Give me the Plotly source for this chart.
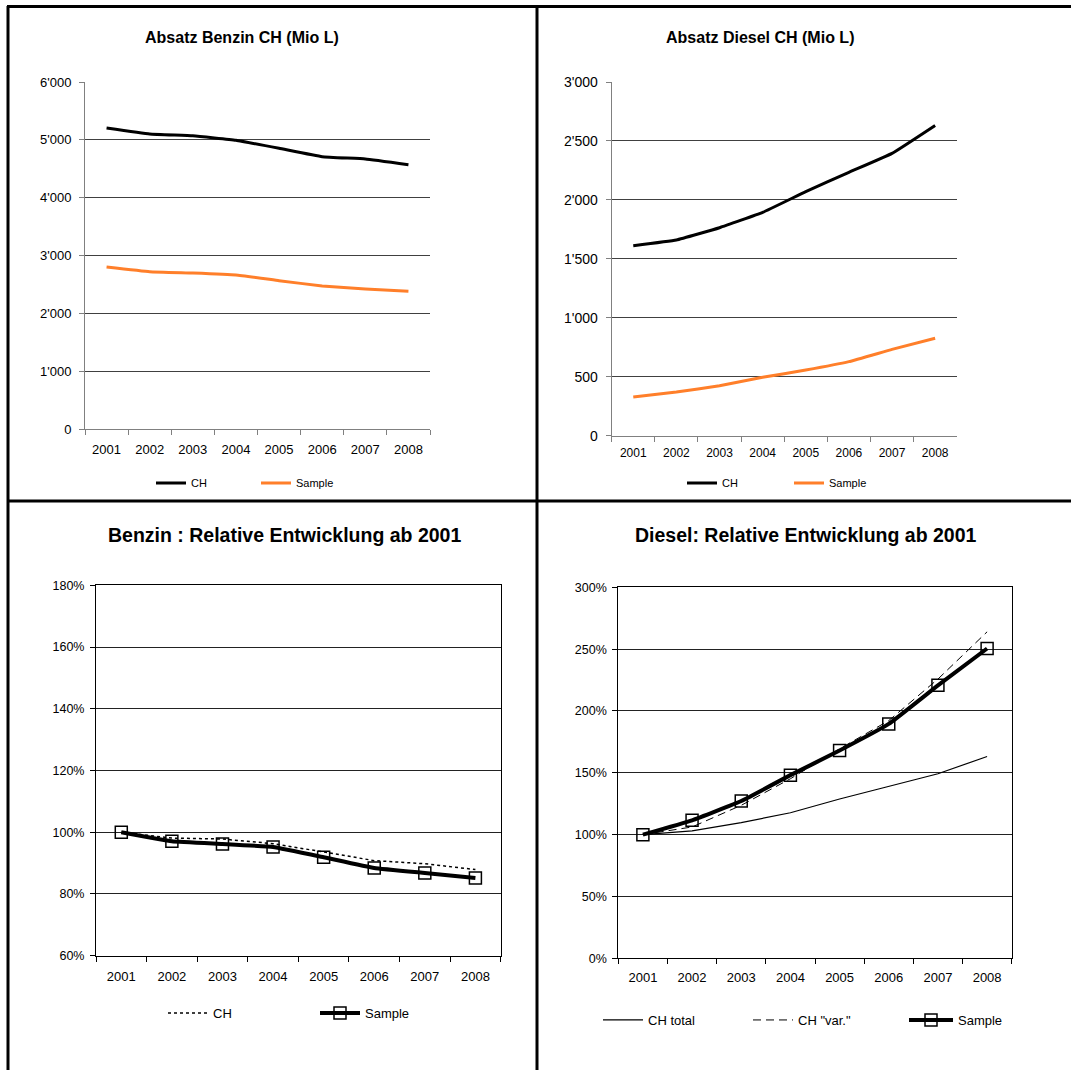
import plotly.graph_objects as go

# ---- data -------------------------------------------------------------
years = ["2001", "2002", "2003", "2004", "2005", "2006", "2007", "2008"]

# Absatz Benzin (Mio L)
benzin_ch = [5205, 5102, 5070, 4993, 4855, 4710, 4670, 4572]
benzin_sample = [2804, 2723, 2700, 2666, 2568, 2476, 2424, 2384]

# Absatz Diesel (Mio L)
diesel_ch = [1612, 1660, 1764, 1894, 2070, 2234, 2395, 2632]
diesel_sample = [328, 370, 424, 495, 557, 628, 732, 826]

# Relative Entwicklung ab 2001 (2001 = 100%)
benzin_rel_ch = [1.000, 0.981, 0.978, 0.963, 0.936, 0.908, 0.898, 0.879]
benzin_rel_sample = [1.000, 0.971, 0.962, 0.952, 0.919, 0.884, 0.868, 0.852]

diesel_rel_ch_total = [1.000, 1.030, 1.097, 1.177, 1.288, 1.390, 1.492, 1.632]
diesel_rel_ch_var = [1.000, 1.062, 1.237, 1.452, 1.694, 1.922, 2.258, 2.640]
diesel_rel_sample = [1.000, 1.116, 1.272, 1.481, 1.680, 1.895, 2.207, 2.505]

# ---- layout helpers ---------------------------------------------------
W, H = 1071, 1070
FONT = "Liberation Sans, Arial, sans-serif"
ORANGE = "#FF7F2A"


def px(x):
    return x / W


def py(y):
    return 1 - y / H


fig = go.Figure()

# top-left: Benzin absolute
fig.add_trace(go.Scatter(x=years, y=benzin_ch, name="CH", mode="lines",
                         line=dict(color="black", width=3, shape="spline", smoothing=0.3),
                         xaxis="x", yaxis="y", legend="legend"))
fig.add_trace(go.Scatter(x=years, y=benzin_sample, name="Sample", mode="lines",
                         line=dict(color=ORANGE, width=3, shape="spline", smoothing=0.3),
                         xaxis="x", yaxis="y", legend="legend2"))

# top-right: Diesel absolute
fig.add_trace(go.Scatter(x=years, y=diesel_ch, name="CH", mode="lines",
                         line=dict(color="black", width=3, shape="spline", smoothing=0.3),
                         xaxis="x2", yaxis="y2", legend="legend3"))
fig.add_trace(go.Scatter(x=years, y=diesel_sample, name="Sample", mode="lines",
                         line=dict(color=ORANGE, width=3, shape="spline", smoothing=0.3),
                         xaxis="x2", yaxis="y2", legend="legend4"))

# bottom-left: Benzin relative
fig.add_trace(go.Scatter(x=years, y=benzin_rel_ch, name="CH", mode="lines",
                         line=dict(color="black", width=1.5, dash="dot"),
                         xaxis="x3", yaxis="y3", legend="legend5"))
fig.add_trace(go.Scatter(x=years, y=benzin_rel_sample, name="Sample", mode="lines+markers",
                         line=dict(color="black", width=4, shape="spline", smoothing=0.3),
                         marker=dict(symbol="square-open", size=12, color="black",
                                     line=dict(width=1.5)),
                         xaxis="x3", yaxis="y3", legend="legend6"))

# bottom-right: Diesel relative
fig.add_trace(go.Scatter(x=years, y=diesel_rel_ch_total, name="CH total", mode="lines",
                         line=dict(color="black", width=1.2),
                         xaxis="x4", yaxis="y4", legend="legend7"))
fig.add_trace(go.Scatter(x=years, y=diesel_rel_ch_var, name='CH "var."', mode="lines",
                         line=dict(color="black", width=1, dash="8px,5px"),
                         xaxis="x4", yaxis="y4", legend="legend8"))
fig.add_trace(go.Scatter(x=years, y=diesel_rel_sample, name="Sample", mode="lines+markers",
                         line=dict(color="black", width=4, shape="spline", smoothing=0.3),
                         marker=dict(symbol="square-open", size=12, color="black",
                                     line=dict(width=1.5)),
                         xaxis="x4", yaxis="y4", legend="legend9"))


def cat_axis(domain, anchor, size, line_color, standoff, mirror=False):
    return dict(domain=domain, anchor=anchor, type="category",
                range=[-0.5, 7.5], tickson="boundaries", ticks="outside",
                ticklen=5, tickcolor=line_color, showline=True, linecolor=line_color,
                linewidth=1, mirror=mirror, showgrid=False, zeroline=False,
                ticklabelstandoff=standoff,
                tickfont=dict(family=FONT, size=size, color="black"),
                fixedrange=True)


def val_axis(domain, anchor, rng, dtick, fmt, size, line_color, grid_color,
             standoff, mirror=False):
    return dict(domain=domain, anchor=anchor, range=rng, dtick=dtick, tick0=0,
                tickformat=fmt, ticks="outside", ticklen=5, tickcolor=line_color,
                showline=True, linecolor=line_color, linewidth=1, mirror=mirror,
                showgrid=True, gridcolor=grid_color, gridwidth=1, zeroline=False,
                ticklabelstandoff=standoff,
                tickfont=dict(family=FONT, size=size, color="black"),
                fixedrange=True)


# plot-area rectangles (pixels)
d1x, d1y = [px(85), px(430)], [py(429.3), py(82)]
d2x, d2y = [px(611.7), px(956.7)], [py(435.7), py(82)]
d3x, d3y = [px(96), px(500.7)], [py(955.7), py(585.3)]
d4x, d4y = [px(618.3), px(1011.7)], [py(958.3), py(587.3)]

layout_axes = dict(
    xaxis=cat_axis(d1x, "y", 13, "#808080", 8),
    yaxis=val_axis(d1y, "x", [0, 6000], 1000, ",d", 13, "#808080", "#404040", 5),
    xaxis2=cat_axis(d2x, "y2", 12, "#808080", 6),
    yaxis2=val_axis(d2y, "x2", [0, 3000], 500, ",d", 14, "#808080", "#404040", 5),
    xaxis3=cat_axis(d3x, "y3", 13, "black", 9, mirror=True),
    yaxis3=val_axis(d3y, "x3", [0.6, 1.8], 0.2, ".0%", 12.5, "black", "#222222", 3,
                    mirror=True),
    xaxis4=cat_axis(d4x, "y4", 13, "black", 7, mirror=True),
    yaxis4=val_axis(d4y, "x4", [0, 3.0], 0.5, ".0%", 12.5, "black", "#222222", 3,
                    mirror=True),
)


def legend_at(x, y, size, itemwidth=30):
    return dict(x=px(x), y=py(y), xanchor="left", yanchor="middle",
                orientation="h", bgcolor="rgba(0,0,0,0)", borderwidth=0,
                itemwidth=itemwidth, font=dict(family=FONT, size=size, color="black"),
                tracegroupgap=0, itemclick=False, itemdoubleclick=False)


legends = dict(
    legend=legend_at(151, 483, 11),
    legend2=legend_at(256, 483, 11),
    legend3=legend_at(682, 483, 11),
    legend4=legend_at(789, 483, 11),
    legend5=legend_at(163, 1013, 13, 40),
    legend6=legend_at(315, 1013, 13, 40),
    legend7=legend_at(598, 1020, 13, 40),
    legend8=legend_at(748, 1020, 13, 40),
    legend9=legend_at(904, 1020, 13, 44),
)

titles = [
    ("Absatz Benzin CH (Mio L)", 242, 38, 16),
    ("Absatz Diesel CH (Mio L)", 760, 38, 16),
    ("Benzin : Relative Entwicklung ab 2001", 284, 535, 19.5),
    ("Diesel: Relative Entwicklung ab 2001", 806, 535, 19.5),
]
annotations = [
    dict(text=f"<b>{t}</b>", x=px(x), y=py(y), xref="paper", yref="paper",
         xanchor="center", yanchor="middle", showarrow=False,
         font=dict(family=FONT, size=s, color="black"))
    for t, x, y, s in titles
]

# table frame around the four charts
frame = [
    (7, 6.5, W, 6.5),        # top rule
    (8, 6, 8, H),            # left rule
    (537, 6, 537, H),        # centre rule
    (8, 501, W, 501),        # middle rule
]
shapes = [
    dict(type="line", xref="paper", yref="paper",
         x0=px(x0), y0=py(y0), x1=px(x1), y1=py(y1),
         line=dict(color="black", width=3))
    for x0, y0, x1, y1 in frame
]

fig.update_layout(
    width=W, height=H,
    margin=dict(l=0, r=0, t=0, b=0, pad=0, autoexpand=False),
    paper_bgcolor="white", plot_bgcolor="white",
    separators=".'",
    font=dict(family=FONT, color="black"),
    showlegend=True,
    annotations=annotations, shapes=shapes,
    **layout_axes, **legends,
)

fig.write_html("out.html", config=dict(displayModeBar=False))
